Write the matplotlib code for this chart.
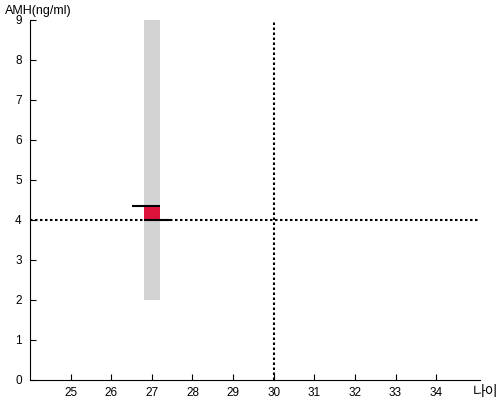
import matplotlib.pyplot as plt

plt.rcParams['font.family'] = ['Liberation Sans', 'Noto Sans CJK KR', 'DejaVu Sans']

# data
ages = [27]
range_low = [2]
range_high = [9]
amh_values = [4.35]
ref_amh = 4
ref_age = 30
x_ticks = [25, 26, 27, 28, 29, 30, 31, 32, 33, 34]
y_ticks = [0, 1, 2, 3, 4, 5, 6, 7, 8, 9]

fig = plt.figure(figsize=(5, 4), dpi=100)
ax = fig.add_axes([0.06, 0.05, 0.90, 0.90])

# grey range bar
ax.bar(ages, [h - l for h, l in zip(range_high, range_low)], bottom=range_low,
       width=0.4, color='#d3d3d3', zorder=1)

# red box between reference and measured value
ax.bar(ages, [v - ref_amh for v in amh_values], bottom=ref_amh,
       width=0.4, color='#dc143c', zorder=2)

# black markers
for a, v in zip(ages, amh_values):
    ax.hlines(v, a - 0.5, a + 0.2, color='black', lw=1.5, zorder=3)
    ax.hlines(ref_amh, a - 0.2, a + 0.47, color='black', lw=1.5, zorder=3)

# reference lines
ax.axhline(ref_amh, color='black', ls=(0, (1.2, 1.2)), lw=1.5, zorder=2)
ax.axvline(ref_age, color='black', ls=(0, (1.2, 1.2)), lw=1.5, zorder=2)

ax.set_xlim(24, 35.08)
ax.set_ylim(0, 9)
ax.set_xticks(x_ticks)
ax.set_yticks(y_ticks)
ax.tick_params(direction='in', length=4, labelsize=8.5, pad=6)
ax.tick_params(axis='x', pad=5)
ax.spines['top'].set_visible(False)
ax.spines['right'].set_visible(False)

fig.text(0.01, 0.965, 'AMH(ng/ml)', fontsize=9)
fig.text(0.945, 0.01, '나이', fontsize=10)

fig.savefig('out.png')
